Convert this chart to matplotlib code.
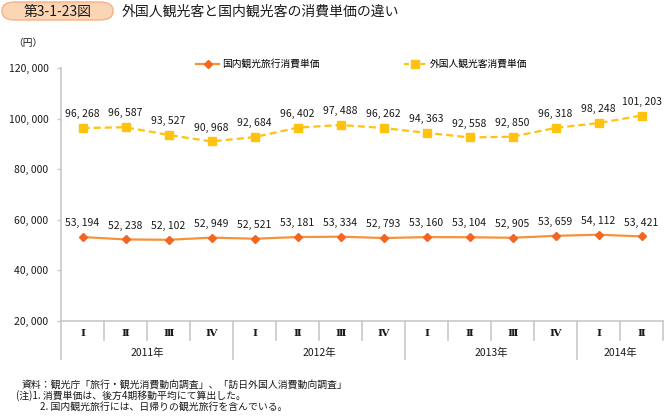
import matplotlib
matplotlib.use("Agg")
import matplotlib.pyplot as plt
from matplotlib.patches import FancyBboxPatch
from matplotlib.lines import Line2D
import matplotlib.transforms as mtransforms

plt.rcParams['font.family'] = ['Noto Sans CJK JP', 'DejaVu Sans']

quarters = ['Ⅰ', 'Ⅱ', 'Ⅲ', 'Ⅳ', 'Ⅰ', 'Ⅱ', 'Ⅲ', 'Ⅳ', 'Ⅰ', 'Ⅱ', 'Ⅲ', 'Ⅳ', 'Ⅰ', 'Ⅱ']
years = ['2011年', '2012年', '2013年', '2014年']
year_counts = [4, 4, 4, 2]
domestic = [53194, 52238, 52102, 52949, 52521, 53181, 53334, 52793, 53160, 53104, 52905, 53659, 54112, 53421]
foreign = [96268, 96587, 93527, 90968, 92684, 96402, 97488, 96262, 94363, 92558, 92850, 96318, 98248, 101203]
yticks = [20000, 40000, 60000, 80000, 100000, 120000]
name_dom = '国内観光旅行消費単価'
name_for = '外国人観光客消費単価'
title_no = '第3-1-23図'
title = '外国人観光客と国内観光客の消費単価の違い'
notes = ['資料：観光庁「旅行・観光消費動向調査」、「訪日外国人消費動向調査」',
         '(注)1. 消費単価は、後方4期移動平均にて算出した。',
         '2. 国内観光旅行には、日帰りの観光旅行を含んでいる。']

c_dom = '#F7913A'
c_dom_m = '#F26522'
c_for = '#FFC20E'
gray = '#C8C8C8'
txt = '#1A1A1A'

W, H = 664, 416
fig = plt.figure(figsize=(W / 100, H / 100), dpi=100)
ax = fig.add_axes([61 / W, 1 - 321 / H, 602 / W, 253 / H])

x = list(range(len(quarters)))
ax.plot(x, domestic, color=c_dom, lw=1.6, marker='D', ms=4, mfc=c_dom_m, mec=c_dom_m, zorder=3)
ax.plot(x, foreign, color=c_for, lw=1.6, ls=(0, (3.2, 1.8)), marker='s', ms=6, mfc=c_for, mec=c_for, zorder=3)

def fmt(v):
    return f"{v:,}".replace(',', ', ')

for xi, v in zip(x, domestic):
    ax.annotate(fmt(v), (xi, v), xytext=(0, 10), textcoords='offset points',
                ha='center', va='center', fontsize=7.5, color=txt)
for xi, v in zip(x, foreign):
    ax.annotate(fmt(v), (xi, v), xytext=(0, 10), textcoords='offset points',
                ha='center', va='center', fontsize=7.5, color=txt)

ax.set_xlim(-0.5, len(quarters) - 0.5)
ax.set_ylim(20000, 120000)
ax.set_yticks(yticks)
ax.set_yticklabels([fmt(t) for t in yticks], fontsize=7.5, color=txt)
ax.tick_params(axis='y', length=3, color=gray, width=1, pad=6)
ax.set_xticks([])
for s in ['top', 'right']:
    ax.spines[s].set_visible(False)
ax.spines['left'].set_color(gray)
ax.spines['left'].set_linewidth(1.2)
ax.spines['bottom'].set_color(gray)
ax.spines['bottom'].set_linewidth(1.2)

trans = mtransforms.blended_transform_factory(ax.transData, ax.transAxes)
y_q = -19 / 253
y_y = -38 / 253
year_bounds = []
acc = 0
for c in year_counts:
    acc += c
    year_bounds.append(acc)
for k in range(len(quarters) + 1):
    xb = k - 0.5
    ybot = y_y if (k == 0 or k in year_bounds[:-1]) else y_q
    ax.plot([xb, xb], [0, ybot], transform=trans, color=gray, lw=1.2, clip_on=False)
for xi, q in zip(x, quarters):
    ax.text(xi, -12 / 253, q, transform=trans, ha='center', va='center', fontsize=7.5,
            color=txt, family=['DejaVu Serif', 'Noto Sans CJK JP'], fontweight='bold')
start = 0
for yname, c in zip(years, year_counts):
    ax.text(start + c / 2 - 0.5, -32 / 253, yname, transform=trans, ha='center', va='center',
            fontsize=7.5, color=txt)
    start += c

ax.text(-0.055, 1.1, '（円）', transform=ax.transAxes, ha='center', va='center', fontsize=7, color=txt)

handles = [Line2D([0], [0], color=c_dom, lw=1.6, marker='D', ms=4, mfc=c_dom_m, mec=c_dom_m),
           Line2D([0], [0], color=c_for, lw=1.6, ls=(0, (2.2, 1.5)), marker='s', ms=6, mfc=c_for, mec=c_for)]
fig.legend(handles, [name_dom, name_for], loc='center', bbox_to_anchor=(362 / W, 1 - 64 / H),
           ncol=2, frameon=False, fontsize=7, handlelength=2.3, columnspacing=8.7, handletextpad=0.35)

# title
box = FancyBboxPatch((2 / W, 1 - 20 / H), 111 / W, 18 / H, boxstyle='round,pad=0,rounding_size=0.02',
                     transform=fig.transFigure, facecolor='#FCD5B4', edgecolor='#F6B183', lw=1)
fig.patches.append(box)
fig.text(58 / W, 1 - 12 / H, title_no, ha='center', va='center', fontsize=10, color=txt)
fig.text(122 / W, 1 - 12 / H, title, ha='left', va='center', fontsize=10, color=txt)

fig.text(22 / W, 1 - 385 / H, notes[0], ha='left', va='center', fontsize=7.1, color=txt)
fig.text(16 / W, 1 - 396 / H, notes[1], ha='left', va='center', fontsize=7.1, color=txt)
fig.text(40 / W, 1 - 407 / H, notes[2], ha='left', va='center', fontsize=7.1, color=txt)

fig.savefig('out.png', dpi=100)
